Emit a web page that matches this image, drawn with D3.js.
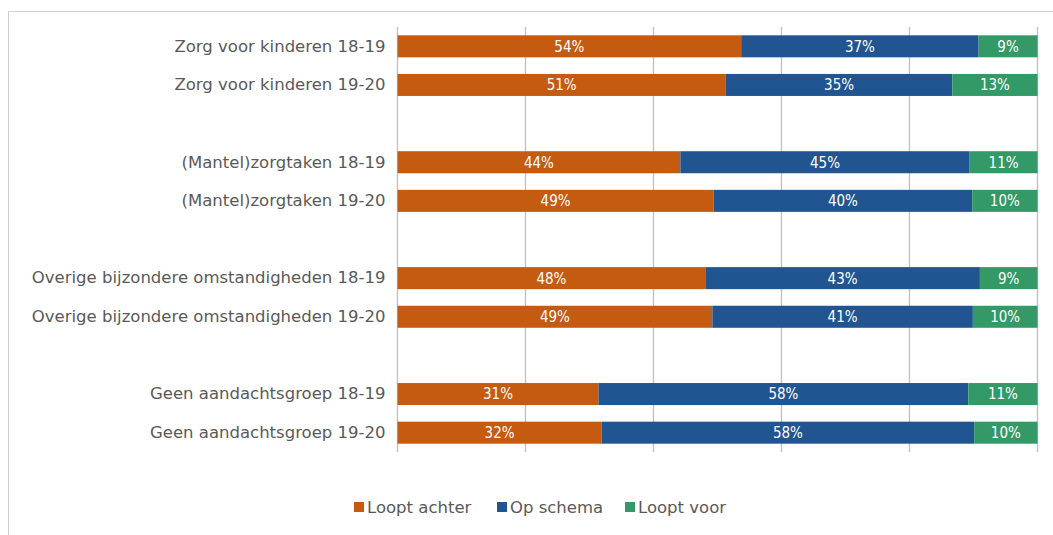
<!DOCTYPE html>
<html><head><meta charset="utf-8">
<script src="https://cdn.jsdelivr.net/npm/d3@7"></script>
<style>
body{margin:0;background:#fff;}
svg{display:block;}
</style></head>
<body>
<svg id="chart" width="1053" height="535"></svg>
<script>
const categories = [
  "Zorg voor kinderen 18-19","Zorg voor kinderen 19-20",
  "(Mantel)zorgtaken 18-19","(Mantel)zorgtaken 19-20",
  "Overige bijzondere omstandigheden 18-19","Overige bijzondere omstandigheden 19-20",
  "Geen aandachtsgroep 18-19","Geen aandachtsgroep 19-20"
];
const seriesNames = ["Loopt achter","Op schema","Loopt voor"];
const looptAchter = [53.7, 51.3, 44.2, 49.4, 48.1, 49.2, 31.4, 31.9];
const opSchema    = [37.1, 35.4, 45.2, 40.4, 42.9, 40.7, 57.8, 58.2];
const looptVoor   = [ 9.2, 13.3, 10.6, 10.2,  9.0, 10.1, 10.8,  9.9];
const xTicks = [0, 20, 40, 60, 80, 100];
const colors = ["#C55A11", "#215591", "#339966"];

const svg = d3.select("#chart");
const font = "'DejaVu Sans', Verdana, sans-serif";

// outer frame (cut off at right/bottom like reference)
svg.append("rect").attr("x", 8.5).attr("y", 11.5).attr("width", 1060).attr("height", 560)
  .attr("fill", "none").attr("stroke", "#d0d0d0").attr("stroke-width", 1);

// domain with spacers between groups
const domain = [];
categories.forEach((c, i) => {
  domain.push(c);
  if (i % 2 === 1 && i < categories.length - 1) domain.push("__gap" + i);
});

const x = d3.scaleLinear().domain([0, 100]).range([397.5, 1037.5]);
const y = d3.scaleBand().domain(domain).range([27, 452]).paddingInner(0.43).paddingOuter(0.215);

// gridlines
svg.append("g").selectAll("line").data(xTicks).join("line")
  .attr("x1", d => x(d)).attr("x2", d => x(d))
  .attr("y1", 27).attr("y2", 452)
  .attr("stroke", "#bfbfbf").attr("stroke-width", 1.3);

const data = categories.map((c, i) => ({cat: c, vals: [looptAchter[i], opSchema[i], looptVoor[i]]}));
const stacked = d3.stack().keys([0, 1, 2]).value((d, k) => d.vals[k])(data);

const g = svg.append("g");
stacked.forEach((layer, k) => {
  g.append("g").selectAll("rect").data(layer).join("rect")
    .attr("x", d => x(d[0]))
    .attr("width", d => x(d[1]) - x(d[0]))
    .attr("y", d => y(d.data.cat))
    .attr("height", y.bandwidth())
    .attr("fill", colors[k]);
  g.append("g").selectAll("text").data(layer).join("text")
    .attr("x", d => (x(d[0]) + x(d[1])) / 2)
    .attr("y", d => y(d.data.cat) + y.bandwidth() / 2)
    .attr("dy", "0.36em")
    .attr("text-anchor", "middle")
    .attr("fill", "#fff")
    .attr("font-family", "'Liberation Sans Narrow', 'DejaVu Sans Condensed', sans-serif")
    .attr("font-size", 15)
    .text(d => Math.round(d[1] - d[0]) + "%");
});

// y axis labels
const yAxis = d3.axisLeft(y).tickSize(0).tickPadding(12).tickFormat(d => d.startsWith("__gap") ? "" : d);
const ya = svg.append("g").attr("transform", "translate(397.5,0)").call(yAxis);
ya.select(".domain").remove();
ya.selectAll("text").attr("font-family", font).attr("font-size", 16.5).attr("fill", "#595959");

// legend
const legendX = [354, 497, 625];
const lg = svg.append("g");
seriesNames.forEach((s, i) => {
  lg.append("rect").attr("x", legendX[i]).attr("y", 502).attr("width", 10).attr("height", 10).attr("fill", colors[i]);
  lg.append("text").attr("x", legendX[i] + 13).attr("y", 513)
    .attr("font-family", font).attr("font-size", 16.5).attr("fill", "#595959").text(s);
});
</script>
</body></html>
